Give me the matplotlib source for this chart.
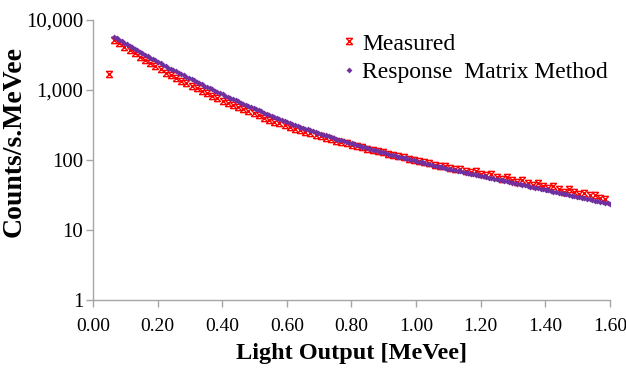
import numpy as np
import matplotlib
matplotlib.use("Agg")
import matplotlib.pyplot as plt
from matplotlib.path import Path

plt.rcParams['font.family'] = ['Liberation Serif', 'DejaVu Serif']

# Measured spectrum, counts/s per MeVee, bins of 0.016 MeVee starting at 0.049
meas_start, meas_step = 0.049, 0.016
measured = [
    1650, 5175, 4625, 4100, 3673, 3296, 2958, 2663, 2400, 2160,
    1943, 1754, 1607, 1468, 1344, 1233, 1134, 1043, 958, 882,
    812, 752, 697, 646, 602, 564, 525, 490, 458, 428,
    399, 373, 351, 331, 311, 294, 278, 263, 249, 237,
    226, 215, 205, 196, 187, 179, 172, 165, 159, 151,
    144, 138, 133, 127, 122, 117, 112.5, 108.4, 104.2, 100.1,
    97.5, 92.0, 90.5, 84.0, 82.7, 82.0, 77.1, 73.0, 74.5, 69.8,
    66.0, 68.5, 63.5, 60.0, 62.5, 57.4, 54.0, 56.5, 51.7, 48.8,
    51.5, 46.7, 43.5, 46.5, 42.2, 39.6, 42.0, 38.1, 35.2, 37.8,
    34.7, 32.0, 33.8, 31.3, 31.6, 28.6, 27.6,
]

# Response matrix calculation, 0.008 MeVee steps starting at 0.065
calc_start, calc_step = 0.065, 0.008
calculated = [
    5675, 5395, 5128, 4875, 4634, 4406, 4198, 4000, 3811, 3631,
    3459, 3302, 3152, 3009, 2872, 2742, 2614, 2491, 2375, 2264,
    2158, 2068, 1981, 1898, 1819, 1743, 1670, 1601, 1534, 1471,
    1410, 1352, 1297, 1243, 1192, 1143, 1097, 1052, 1009, 968,
    929, 892, 857, 823, 790, 759, 731, 704, 678, 653,
    628, 606, 585, 564, 544, 525, 506, 488, 470, 453,
    437, 423, 409, 396, 383, 370, 358, 347, 336, 326,
    316, 306, 297, 288, 279, 271, 263, 256, 249, 242,
    235, 229, 222, 216, 210, 205, 199, 194, 189, 184,
    180, 175, 171, 167, 163, 158, 154, 150, 146, 143,
    139, 136, 133, 130, 127, 124, 121, 118.5, 116, 113.5,
    111, 109, 106.7, 104.5, 102.3, 100.2, 98.0, 95.8, 93.7, 91.6,
    89.5, 87.8, 86.0, 84.3, 82.7, 81.1, 79.5, 78.0, 76.5, 75.0,
    73.6, 72.2, 70.9, 69.5, 68.2, 67.0, 65.7, 64.5, 63.3, 62.1,
    60.9, 59.9, 58.8, 57.8, 56.8, 55.8, 54.8, 53.8, 52.8, 51.8,
    50.9, 49.9, 49.0, 48.1, 47.2, 46.4, 45.5, 44.7, 43.9, 43.1,
    42.3, 41.5, 40.8, 40.0, 39.3, 38.6, 37.9, 37.2, 36.5, 35.8,
    35.2, 34.5, 33.9, 33.3, 32.7, 32.1, 31.5, 30.9, 30.4, 29.8,
    29.3, 28.8, 28.2, 27.7, 27.2, 26.7, 26.2, 25.7, 25.3, 24.8,
    24.4, 23.9, 23.5,
]

x_ticks = [0.0, 0.2, 0.4, 0.6, 0.8, 1.0, 1.2, 1.4, 1.6]
y_ticks = [1, 10, 100, 1000, 10000]
y_tick_labels = ['1', '10', '100', '1,000', '10,000']

x_meas = meas_start + meas_step * np.arange(len(measured))
x_calc = calc_start + calc_step * np.arange(len(calculated))

# hourglass-style cross used for the measured points
cross = Path(
    [(-1, 1), (1, 1), (-1, -1), (1, -1), (-1, 1), (1, -1), (1, 1), (-1, -1)],
    [Path.MOVETO, Path.LINETO, Path.MOVETO, Path.LINETO,
     Path.MOVETO, Path.LINETO, Path.MOVETO, Path.LINETO],
)

fig = plt.figure(figsize=(6.26, 3.73), dpi=100)
ax = fig.add_axes([0.1486, 0.1957, 0.8258, 0.7520])

ax.plot(x_meas, measured, linestyle='none', marker=cross, markersize=4.5,
        markeredgewidth=1.0, color='#FF0000', label='Measured')
ax.plot(x_calc, calculated, linestyle='none', marker='D', markersize=3.0,
        markeredgewidth=0, color='#7030A0', label='Response  Matrix Method')

ax.set_yscale('log')
ax.set_ylim(1, 10000)
ax.set_xlim(0, 1.6)
ax.set_yticks(y_ticks)
ax.set_yticklabels(y_tick_labels)
ax.yaxis.set_minor_locator(matplotlib.ticker.NullLocator())
ax.set_xticks(x_ticks)
ax.set_xticklabels([f'{v:.2f}' for v in x_ticks])

for side in ('top', 'right'):
    ax.spines[side].set_visible(False)
for side in ('left', 'bottom'):
    ax.spines[side].set_color('#A6A6A6')
    ax.spines[side].set_linewidth(1.0)
ax.tick_params(axis='both', direction='out', length=5, width=1.0,
               color='#A6A6A6', pad=2)
ax.tick_params(axis='y', labelsize=15)
ax.tick_params(axis='x', labelsize=14, pad=8)

ax.set_xlabel('Light Output [MeVee]', fontsize=17.5, fontweight='bold', labelpad=6)
ax.set_ylabel('Counts/s.MeVee', fontsize=20, fontweight='bold')
ax.yaxis.set_label_coords(-0.128, 0.565)

ax.legend(loc='upper left', bbox_to_anchor=(0.463, 0.985), frameon=False,
          fontsize=17, handlelength=0.6, handletextpad=0.25, labelspacing=0.3,
          borderaxespad=0)

fig.savefig('out.png', dpi=100)
